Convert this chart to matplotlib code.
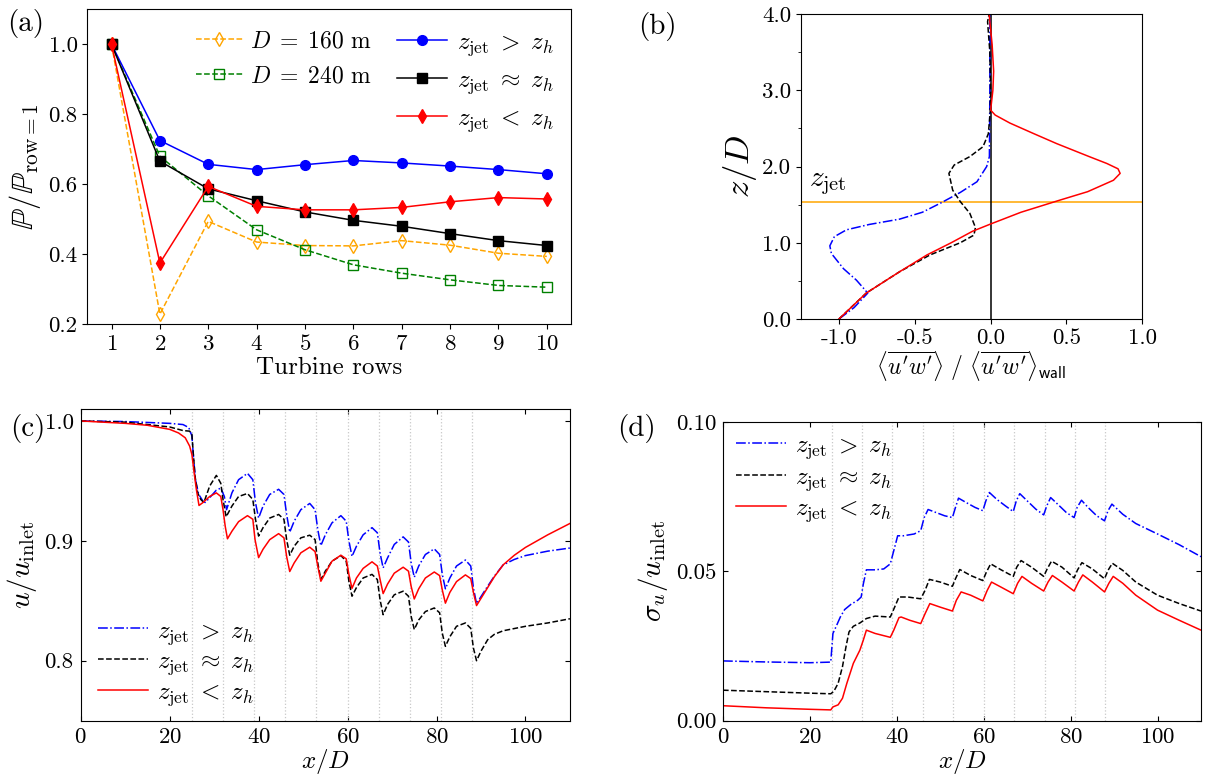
import matplotlib
matplotlib.use("Agg")
import matplotlib.pyplot as plt
from matplotlib.ticker import FormatStrFormatter, MultipleLocator

plt.rcParams["font.family"] = "serif"
plt.rcParams["font.serif"] = ["cmr10"]
plt.rcParams["mathtext.fontset"] = "cm"
plt.rcParams["axes.formatter.use_mathtext"] = True
plt.rcParams["font.size"] = 16.5

# ---- (a) power ratio per turbine row ----
rows = [1, 2, 3, 4, 5, 6, 7, 8, 9, 10]
p_above = [1.0, 0.725, 0.657, 0.642, 0.656, 0.668, 0.661, 0.652, 0.642, 0.630]
p_near = [1.0, 0.666, 0.587, 0.553, 0.521, 0.497, 0.480, 0.459, 0.439, 0.425]
p_below = [1.0, 0.375, 0.594, 0.537, 0.527, 0.527, 0.534, 0.550, 0.562, 0.558]
p_d160 = [1.0, 0.229, 0.494, 0.435, 0.425, 0.424, 0.439, 0.426, 0.403, 0.394]
p_d240 = [1.0, 0.680, 0.567, 0.470, 0.413, 0.370, 0.346, 0.327, 0.311, 0.306]

# ---- (b) shear stress profiles ----
zjet = 1.54
b_above_x = [-1.0, -0.90, -0.81, -0.885, -0.97, -1.05, -1.06, -1.03, -0.95, -0.80, -0.60,
             -0.45, -0.33, -0.2, -0.09, -0.026, -0.008, -0.005, -0.005]
b_above_z = [0.0, 0.15, 0.34, 0.51, 0.66, 0.86, 0.96, 1.08, 1.17, 1.24, 1.31,
             1.40, 1.52, 1.66, 1.80, 2.0, 2.13, 3.0, 4.0]
b_near_x = [-1.0, -0.82, -0.60, -0.40, -0.2, -0.11, -0.10, -0.137, -0.2, -0.25, -0.275,
            -0.24, -0.137, -0.05, -0.015, -0.003, 0.0, -0.005, -0.02, -0.01]
b_near_z = [0.0, 0.34, 0.62, 0.84, 1.0, 1.10, 1.20, 1.386, 1.54, 1.69, 1.91,
            2.02, 2.13, 2.26, 2.43, 2.70, 3.0, 3.5, 3.9, 4.0]
b_below_x = [-1.0, -0.82, -0.60, -0.42, -0.26, -0.12, 0.0, 0.2, 0.458, 0.64, 0.81, 0.854,
             0.84, 0.766, 0.65, 0.436, 0.28, 0.127, 0.03, 0.0, 0.015, 0.02, 0.01, -0.01]
b_below_z = [0.0, 0.34, 0.62, 0.84, 1.0, 1.15, 1.246, 1.40, 1.56, 1.67, 1.82, 1.91,
             1.97, 2.04, 2.13, 2.30, 2.435, 2.57, 2.675, 2.74, 3.0, 3.25, 3.6, 4.0]

# ---- (c) hub-height velocity ----
turbines = [25, 32, 39, 46, 53, 60, 67, 74, 81, 88]
c_below_x = [0, 10, 15, 20, 22, 23.5, 24.5, 25, 25.5, 26, 26.6, 27.5, 29, 30.5, 31.5, 32, 32.5, 33,
             34, 35.5, 37.5, 38.7, 39.2, 40, 41, 42.5, 44.5, 45.7, 46.3, 47,
             48, 49.5, 51.5, 52.7, 53.3, 54, 55, 56.5, 58.5, 59.7, 60.3, 61,
             62, 63.5, 65.5, 66.7, 67.3, 68, 69, 70.5, 72.5, 73.7, 74.3, 75,
             76, 77.5, 79.5, 80.7, 81.3, 82, 83, 84.5, 86.5, 87.7, 88.3, 89,
             91, 93, 95, 97.5, 100, 105, 110]
c_below_u = [1.0, 0.998, 0.9964, 0.993, 0.990, 0.986, 0.979, 0.972, 0.957, 0.943, 0.9295, 0.932, 0.937, 0.940, 0.937, 0.926, 0.912, 0.9017,
             0.908, 0.916, 0.921, 0.918, 0.901, 0.886, 0.893, 0.901, 0.906, 0.9025, 0.887, 0.8744,
             0.8816, 0.890, 0.8947, 0.891, 0.879, 0.8663, 0.873, 0.883, 0.888, 0.885, 0.872, 0.8604,
             0.869, 0.877, 0.8825, 0.879, 0.868, 0.856, 0.864, 0.873, 0.878, 0.8747, 0.862, 0.8515,
             0.860, 0.869, 0.874, 0.871, 0.859, 0.848, 0.857, 0.866, 0.8716, 0.8685, 0.857, 0.846,
             0.858, 0.870, 0.880, 0.888, 0.8945, 0.905, 0.9145]
c_near_x = [0, 10, 20, 23, 24.5, 25, 25.3, 25.7, 26.3, 27, 27.7, 29, 30.5, 31.5, 32, 32.7,
            34, 35.5, 37.5, 38.7, 39.3, 40, 41, 42.5, 44.5, 45.7, 46.3, 47,
            48, 49.5, 51.5, 52.7, 53.3, 54, 55, 56.5, 58.5, 59.7, 60.3, 61,
            62, 63.5, 65.5, 66.7, 67.3, 68, 69, 70.5, 72.5, 73.7, 74.3, 75,
            76, 77.5, 79.5, 80.7, 81.3, 82, 83, 84.5, 86.5, 87.7, 88.3, 89,
            90, 91.5, 93, 95, 100, 105, 110]
c_near_u = [1.0, 0.999, 0.995, 0.992, 0.9915, 0.989, 0.9735, 0.954, 0.940, 0.9345, 0.932, 0.9457, 0.9546, 0.948, 0.9345, 0.920,
            0.929, 0.937, 0.9395, 0.9345, 0.918, 0.904, 0.911, 0.919, 0.922, 0.918, 0.901, 0.888,
            0.8955, 0.9025, 0.9047, 0.901, 0.8816, 0.8677, 0.8747, 0.883, 0.8877, 0.883, 0.8663, 0.8538,
            0.861, 0.869, 0.872, 0.8677, 0.851, 0.8384, 0.847, 0.855, 0.858, 0.8538, 0.837, 0.826,
            0.834, 0.841, 0.844, 0.840, 0.823, 0.812, 0.820, 0.8287, 0.8315, 0.827, 0.8106, 0.800,
            0.808, 0.8175, 0.822, 0.825, 0.8287, 0.8315, 0.835]
c_above_x = [0, 10, 20, 23, 24.3, 25, 25.4, 25.8, 26.5, 27.5, 28, 29, 30.5, 31.5, 32.3, 32.8,
             34, 35.5, 37.5, 38.7, 39.3, 40, 41, 42.5, 44.5, 45.7, 46.3, 47,
             48, 49.5, 51.5, 52.7, 53.3, 54, 55, 56.5, 58.5, 59.7, 60.3, 61,
             62, 63.5, 65.5, 66.7, 67.3, 68, 69, 70.5, 72.5, 73.7, 74.3, 75,
             76, 77.5, 79.5, 80.7, 81.3, 82, 83, 84.5, 86.5, 87.7, 88.3, 89,
             91, 93, 95, 97.5, 100, 105, 110]
c_above_u = [1.0, 0.9995, 0.998, 0.997, 0.9945, 0.9875, 0.968, 0.951, 0.939, 0.933, 0.932, 0.936, 0.9423, 0.944, 0.937, 0.926,
             0.940, 0.951, 0.9563, 0.951, 0.9318, 0.919, 0.929, 0.9387, 0.943, 0.9387, 0.922, 0.9072,
             0.9164, 0.926, 0.9312, 0.926, 0.9095, 0.896, 0.905, 0.915, 0.921, 0.9164, 0.900, 0.887,
             0.8955, 0.905, 0.911, 0.9067, 0.890, 0.8774, 0.8858, 0.897, 0.9033, 0.899, 0.8816, 0.8696,
             0.879, 0.8886, 0.8933, 0.8886, 0.872, 0.860, 0.869, 0.879, 0.884, 0.879, 0.8607, 0.8476,
             0.8593, 0.8705, 0.880, 0.8845, 0.8877, 0.8914, 0.894]

# ---- (d) velocity fluctuations ----
d_above_x = [0, 10, 20, 24.8, 25.3, 26, 27, 28, 29.5, 31, 31.8, 32.3, 33, 35, 37, 38.5, 39.3, 40.2,
             41.5, 44, 45.5, 46.3, 47.2, 49, 51, 52.8, 53.5, 54.2, 56, 58, 59.8, 60.5, 61.3,
             63, 65, 66.8, 67.5, 68.3, 70, 72, 73.8, 74.5, 75.4, 77, 79, 80.8, 81.5, 82.5,
             84, 86, 87.8, 88.6, 89.5, 92, 95, 100, 105, 110]
d_above_s = [0.0200, 0.01965, 0.0194, 0.0196, 0.0292, 0.0314, 0.0347, 0.0372, 0.039, 0.0403, 0.0414, 0.0458, 0.0505, 0.0505, 0.0508, 0.0525, 0.0569, 0.0619,
             0.0619, 0.0625, 0.0636, 0.068, 0.0707, 0.0697, 0.0686, 0.068, 0.0714, 0.0745, 0.073, 0.0714, 0.0703, 0.0736, 0.0764,
             0.0741, 0.0719, 0.070, 0.0736, 0.076, 0.0736, 0.0708, 0.0689, 0.0719, 0.0747, 0.0725, 0.0697, 0.068, 0.0714, 0.0738,
             0.0714, 0.0686, 0.0669, 0.0703, 0.0725, 0.0691, 0.066, 0.0625, 0.0589, 0.0549]
d_near_x = [0, 10, 20, 24.8, 25.5, 26.5, 27.5, 28.3, 29, 30, 31.5, 33, 35, 38.5, 39.5, 40.5, 42.5,
            45.5, 46.5, 47.5, 50, 52.8, 53.5, 54.5, 57, 59.8, 60.6, 61.6, 64, 66.8, 67.6, 68.6,
            71, 73.8, 74.6, 75.6, 78, 80.8, 81.6, 82.6, 85, 87.8, 88.6, 89.6, 92, 95, 100, 105, 110]
d_near_s = [0.0102, 0.0097, 0.0092, 0.009, 0.0098, 0.0125, 0.0181, 0.0247, 0.0297, 0.0316, 0.0327, 0.0342, 0.035, 0.0347, 0.038, 0.0414, 0.0414,
            0.0408, 0.0436, 0.0473, 0.0464, 0.045, 0.0475, 0.0506, 0.0486, 0.0469, 0.0497, 0.0525, 0.0505, 0.0483, 0.0514, 0.0536,
            0.0514, 0.0483, 0.0508, 0.0534, 0.0514, 0.0478, 0.0505, 0.0529, 0.0508, 0.0475, 0.0503, 0.0527, 0.0503, 0.0464, 0.042, 0.0392, 0.0367]
d_below_x = [0, 10, 20, 24.8, 25.3, 26.5, 27.5, 28.5, 30, 31.5, 32.3, 33, 35, 38.5, 39.3, 40.5, 41,
             43, 45.5, 46.5, 47.6, 50, 52.8, 53.7, 54.8, 57, 59.8, 60.8, 61.8, 64, 66.8, 67.8, 68.8,
             71, 73.8, 74.8, 75.8, 78, 80.8, 81.8, 82.8, 85, 87.8, 88.8, 89.8, 92, 95, 100, 105, 110]
d_below_s = [0.005, 0.0043, 0.0038, 0.0036, 0.0046, 0.0053, 0.0075, 0.0125, 0.0192, 0.0236, 0.027, 0.0303, 0.0292, 0.0279, 0.0303, 0.0345, 0.0347,
             0.0336, 0.0325, 0.0358, 0.0392, 0.038, 0.0367, 0.0403, 0.0431, 0.042, 0.0401, 0.0436, 0.0464, 0.0447, 0.0425, 0.046, 0.0483,
             0.046, 0.0434, 0.0464, 0.0486, 0.0464, 0.0434, 0.0464, 0.0488, 0.0464, 0.0431, 0.046, 0.0483, 0.046, 0.042, 0.037, 0.0336, 0.0303]

lab_above = r"$z_{\mathrm{jet}}\;>\;z_h$"
lab_near = r"$z_{\mathrm{jet}}\;\approx\;z_h$"
lab_below = r"$z_{\mathrm{jet}}\;<\;z_h$"
leg_size = 18

fig = plt.figure(figsize=(12.08, 7.79), dpi=100)
axa = fig.add_axes([0.0723, 0.5837, 0.4004, 0.4044])
axb = fig.add_axes([0.6631, 0.5905, 0.2825, 0.3915])
axc = fig.add_axes([0.0668, 0.0749, 0.4050, 0.4001])
axd = fig.add_axes([0.5985, 0.0749, 0.3957, 0.3834])

# (a)
h1, = axa.plot(rows, p_d160, "--d", color="orange", mfc="none", ms=7, lw=1.1, label=r"$D\;=\;160\ \mathrm{m}$")
h2, = axa.plot(rows, p_d240, "--s", color="green", mfc="none", ms=6.5, lw=1.1, label=r"$D\;=\;240\ \mathrm{m}$")
h3, = axa.plot(rows, p_above, "-o", color="blue", ms=7, lw=1.1, label=lab_above)
h4, = axa.plot(rows, p_near, "-s", color="black", ms=7, lw=1.1, label=lab_near)
h5, = axa.plot(rows, p_below, "-d", color="red", ms=7.5, lw=1.1, label=lab_below)
axa.set_xlim(0.5, 10.5)
axa.set_ylim(0.2, 1.1)
axa.set_xticks(rows)
axa.set_yticks([0.2, 0.4, 0.6, 0.8, 1.0])
axa.yaxis.set_major_formatter(FormatStrFormatter("%.1f"))
axa.set_xlabel("Turbine rows", fontsize=18, labelpad=2)
axa.set_ylabel(r"$\mathbb{P}/\mathbb{P}_{\mathrm{row}=1}$", fontsize=22, labelpad=4)
leg1 = axa.legend(handles=[h1, h2], loc="upper left", bbox_to_anchor=(0.2, 0.97), frameon=False,
                  handletextpad=0.3, labelspacing=0.55, borderaxespad=0.1, fontsize=17)
axa.add_artist(leg1)
axa.legend(handles=[h3, h4, h5], loc="upper right", bbox_to_anchor=(0.99, 0.97), frameon=False,
           handletextpad=0.4, labelspacing=0.45, borderaxespad=0.1, fontsize=leg_size)

# (b)
axb.axhline(zjet, color="orange", lw=1.1)
axb.axvline(0, color="black", lw=1.1)
axb.plot(b_above_x, b_above_z, "-.", color="blue", lw=1.1)
axb.plot(b_near_x, b_near_z, "--", color="black", lw=1.1)
axb.plot(b_below_x, b_below_z, "-", color="red", lw=1.1)
axb.text(-1.2, 1.6, r"$z_{\mathrm{jet}}$", fontsize=21, va="bottom")
axb.set_xlim(-1.25, 1.0)
axb.set_ylim(0, 4)
axb.set_xticks([-1.0, -0.5, 0.0, 0.5, 1.0])
axb.set_yticks([0, 1, 2, 3, 4])
axb.yaxis.set_minor_locator(MultipleLocator(0.5))
axb.xaxis.set_major_formatter(FormatStrFormatter("%.1f"))
axb.yaxis.set_major_formatter(FormatStrFormatter("%.1f"))
axb.set_ylabel(r"$z/D$", fontsize=25, labelpad=2)
axb.set_xlabel(r"$\langle\overline{u'w'}\rangle\ /\ \langle\overline{u'w'}\rangle_{\mathsf{wall}}$",
               fontsize=17, labelpad=1)

# (c) and (d)
for ax in (axc, axd):
    for t in turbines:
        ax.axvline(t, color="#c8c8c8", ls=":", lw=0.9)
    ax.tick_params(direction="in", top=True, right=True, pad=5)
    ax.set_xlim(0, 110)
    ax.set_xticks([0, 20, 40, 60, 80, 100])
    ax.set_xlabel(r"$x/D$", fontsize=18, labelpad=0)

axc.plot(c_above_x, c_above_u, "-.", color="blue", lw=1.1, label=lab_above)
axc.plot(c_near_x, c_near_u, "--", color="black", lw=1.1, label=lab_near)
axc.plot(c_below_x, c_below_u, "-", color="red", lw=1.1, label=lab_below)
axc.set_ylim(0.75, 1.01)
axc.set_yticks([0.8, 0.9, 1.0])
axc.yaxis.set_major_formatter(FormatStrFormatter("%.1f"))
axc.set_ylabel(r"$u/u_{\mathrm{inlet}}$", fontsize=21, labelpad=4)
axc.legend(loc="lower left", bbox_to_anchor=(-0.01, -0.03), frameon=False,
           handletextpad=0.35, labelspacing=0.15, fontsize=leg_size)

axd.plot(d_above_x, d_above_s, "-.", color="blue", lw=1.1, label=lab_above)
axd.plot(d_near_x, d_near_s, "--", color="black", lw=1.1, label=lab_near)
axd.plot(d_below_x, d_below_s, "-", color="red", lw=1.1, label=lab_below)
axd.set_ylim(0, 0.1)
axd.set_yticks([0.0, 0.05, 0.1])
axd.yaxis.set_major_formatter(FormatStrFormatter("%.2f"))
axd.set_ylabel(r"$\sigma_u/u_{\mathrm{inlet}}$", fontsize=21, labelpad=4)
axd.legend(loc="upper left", bbox_to_anchor=(-0.02, 1.035), frameon=False,
           handletextpad=0.35, labelspacing=0.2, fontsize=leg_size)

fig.text(0.006, 0.988, "(a)", fontsize=21, va="top")
fig.text(0.528, 0.985, "(b)", fontsize=21, va="top")
fig.text(0.008, 0.468, "(c)", fontsize=21, va="top")
fig.text(0.511, 0.468, "(d)", fontsize=21, va="top")

fig.savefig("out.png", dpi=100)
